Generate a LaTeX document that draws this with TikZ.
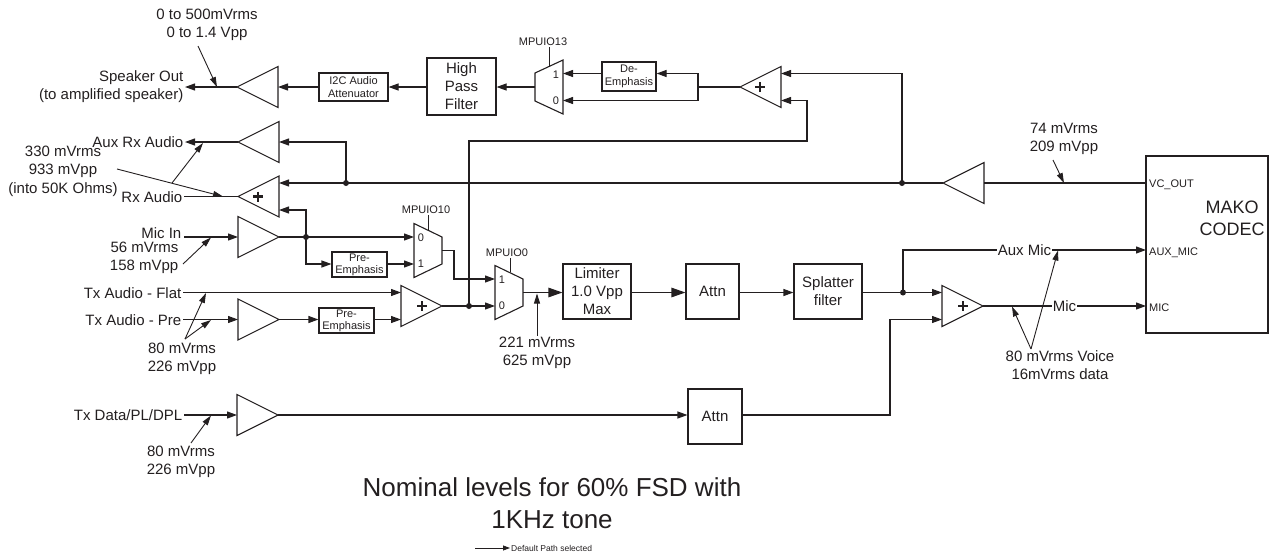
\documentclass[tikz,border=0pt]{standalone}
\usepackage{fontspec}
\setmainfont{Liberation Sans}
\usetikzlibrary{arrows.meta,calc}
\definecolor{ink}{HTML}{231F20}
\begin{document}
\begin{tikzpicture}[x=1pt,y=-1pt,
 lf/.style={font=\fontsize{15}{18}\selectfont,text=ink,inner sep=1.5pt,align=center},
 sf/.style={font=\fontsize{11}{12.5}\selectfont,text=ink,inner sep=1pt,align=center},
 box/.style={draw=ink,line width=1.1pt,inner sep=0pt,text=ink,align=center},
 ln/.style={draw=ink,line width=1.1pt},
 arr/.style={ln,-{Triangle[length=10pt,width=7pt]}},
 barr/.style={ln,-{Triangle[length=14pt,width=9.5pt]}},
 ptr/.style={draw=ink,line width=0.9pt,-{Triangle[length=10pt,width=6pt]}},
 shp/.style={draw=ink,line width=1.1pt},
 plus/.style={draw=ink,line width=2.6pt},
 ampR/.pic={\draw[shp] (0,-20.5) -- (41,0) -- (0,20.5) -- cycle;
   \coordinate (-in) at (0,0); \coordinate (-out) at (41,0);},
 ampL/.pic={\draw[shp] (0,-20.5) -- (-41,0) -- (0,20.5) -- cycle;
   \coordinate (-in) at (0,0); \coordinate (-out) at (-41,0);},
 sumL/.pic={\draw[shp] (0,-20.5) -- (-41,0) -- (0,20.5) -- cycle;
   \draw[plus] (-26,0) -- (-16,0) (-21,-5) -- (-21,5);
   \coordinate (-in1) at (0,-13.5); \coordinate (-in2) at (0,13.5); \coordinate (-out) at (-41,0);},
 sumR/.pic={\draw[shp] (0,-20.5) -- (41,0) -- (0,20.5) -- cycle;
   \draw[plus] (16,0) -- (26,0) (21,-5) -- (21,5);
   \coordinate (-in1) at (0,-13.5); \coordinate (-in2) at (0,13.5); \coordinate (-out) at (41,0);},
 muxN/.pic={\draw[shp] (0,-14) -- (28,-27) -- (28,27) -- (0,14) -- cycle;
   \coordinate (-out) at (0,0); \coordinate (-top) at (28,-13.5); \coordinate (-bot) at (28,13.5);},
 muxW/.pic={\draw[shp] (0,-27) -- (28,-13.5) -- (28,13.5) -- (0,27) -- cycle;
   \coordinate (-out) at (28,0); \coordinate (-top) at (0,-13.5); \coordinate (-bot) at (0,13.5);}
]
\useasboundingbox (0,0) rectangle (1270,558);

% ---------- blocks ----------
\pic (aSpk) at (278,87) {ampL};
\pic (aAux) at (279,142) {ampL};
\pic (sumRx) at (279,196.5) {sumL};
\pic (aMic) at (238,237) {ampR};
\pic (aPre) at (238,319.5) {ampR};
\pic (aData) at (237,415) {ampR};
\pic (aRx2) at (984,183) {ampL};
\pic (sumTop) at (781,87) {sumL};
\pic (sumTx) at (401,306) {sumR};
\pic (sumMic) at (942,306) {sumR};
\pic (m13) at (535,87) {muxN};
\pic (m10) at (414,250.5) {muxW};
\pic (m0) at (495,292.5) {muxW};

\node[box,font=\fontsize{11}{12.5}\selectfont,minimum width=69pt,minimum height=28pt] (i2c) at (353.5,87) {I2C Audio\\Attenuator};
\node[box,font=\fontsize{15}{18}\selectfont,minimum width=69pt,minimum height=57pt] (hpf) at (461.5,86.5) {High\\Pass\\Filter};
\node[box,font=\fontsize{11}{12.5}\selectfont,minimum width=54pt,minimum height=29pt] (de) at (629,76.5) {De-\\Emphasis};
\node[box,font=\fontsize{11}{12}\selectfont,minimum width=55pt,minimum height=25pt] (pe1) at (359.5,264.5) {Pre-\\Emphasis};
\node[box,font=\fontsize{11}{12}\selectfont,minimum width=55pt,minimum height=25pt] (pe2) at (346.5,320.5) {Pre-\\Emphasis};
\node[box,font=\fontsize{15}{18}\selectfont,minimum width=68pt,minimum height=55pt] (lim) at (597,291.5) {Limiter\\1.0 Vpp\\Max};
\node[box,font=\fontsize{15}{18}\selectfont,minimum width=53pt,minimum height=55pt] (at1) at (712.5,291.5) {Attn};
\node[box,font=\fontsize{15}{18}\selectfont,minimum width=68pt,minimum height=55pt] (spl) at (828,291.5) {Splatter\\filter};
\node[box,font=\fontsize{15}{18}\selectfont,minimum width=54pt,minimum height=55pt] (at2) at (715,416.5) {Attn};
\node[box,minimum width=122pt,minimum height=177pt] (codec) at (1207,244.5) {};
\node[font=\fontsize{18}{22}\selectfont,text=ink,align=center] (mako) at (1232,218) {MAKO\\CODEC};
\node[sf,anchor=west] (pinVC) at (1148,185) {VC\_OUT};
\node[sf,anchor=west] (pinAUX) at (1148,253) {AUX\_MIC};
\node[sf,anchor=west] (pinMIC) at (1148,308) {MIC};
\coordinate (pVC) at (1146,183);
\coordinate (pAUX) at (1146,250);
\coordinate (pMIC) at (1146,306);

% mux labels
\node[sf] (l13) at (543,42) {MPUIO13};
\node[sf] (l10) at (426,210) {MPUIO10};
\node[sf] (l0) at (507,253) {MPUIO0};
\coordinate (t13) at (549,66.3);
\coordinate (t10) at (428,229.8);
\coordinate (t0) at (510,272.2);
\draw[ln,line width=0.9pt] (l13.south -| t13) -- (t13);
\draw[ln,line width=0.9pt] (l10.south -| t10) -- (t10);
\draw[ln,line width=0.9pt] (l0.south -| t0) -- (t0);
\node[sf] at ($(m13-top)+(-7,1)$) {1};
\node[sf] at ($(m13-bot)+(-7,0)$) {0};
\node[sf] at ($(m10-top)+(7,1)$) {0};
\node[sf] at ($(m10-bot)+(7,0)$) {1};
\node[sf] at ($(m0-top)+(7,1)$) {1};
\node[sf] at ($(m0-bot)+(7,0)$) {0};

% ---------- text labels ----------
\node[lf,anchor=east,align=right] (spk) at (185,87) {Speaker Out\\(to amplified speaker)};
\node[lf] (lv500) at (207,25) {0 to 500mVrms\\0 to 1.4 Vpp};
\node[lf,anchor=east] (auxrx) at (185,142) {Aux Rx Audio};
\node[lf,anchor=east] (rxa) at (184,197) {Rx Audio};
\node[lf,font=\fontsize{15}{18.5}\selectfont] (lv330) at (63,171) {330 mVrms\\933 mVpp\\(into 50K Ohms)};
\node[lf,anchor=east] (micin) at (183,233) {Mic In};
\node[lf,anchor=east,align=right] (miclv) at (180,258) {56 mVrms\\158 mVpp};
\node[lf,anchor=east] (flat) at (183,293) {Tx Audio - Flat};
\node[lf,anchor=east] (pre) at (183,320) {Tx Audio - Pre};
\node[lf] (lvtx) at (182,359) {80 mVrms\\226 mVpp};
\node[lf,anchor=east] (data) at (184,415) {Tx Data/PL/DPL};
\node[lf] (lvdata) at (181,462) {80 mVrms\\226 mVpp};
\node[lf] (l221) at (537,353) {221 mVrms\\625 mVpp};
\node[lf] (lv74) at (1064,139) {74 mVrms\\209 mVpp};
\node[lf] (lvmic) at (1060,365) {80 mVrms Voice\\16mVrms data};
\node[font=\fontsize{26}{32}\selectfont,text=ink,align=center] (nom) at (552,503) {Nominal levels for 60\% FSD with\\1KHz tone};
\node[font=\fontsize{8.5}{10}\selectfont,text=ink,anchor=west,inner sep=1pt] (lgt) at (510,548) {Default Path selected};
\coordinate (lg1) at (475,548);
\draw[ln,line width=0.8pt,-{Triangle[length=7pt,width=5pt]}] (lg1) -- (lgt.west);

% ---------- coordinates ----------
\coordinate (sp13) at (698,87);
\coordinate (d902) at (902,183);
\coordinate (d346) at (346,183);
\coordinate (d306) at (306,237);
\coordinate (d469) at (469,306);
\coordinate (d903) at (903,292.5);
\coordinate (lb) at (807,141);
\coordinate (tb) at (890,319.5);
\coordinate (micst) at (184,237);

% ---------- connectors ----------
% speaker path
\draw[ln] (sumTop-out) -- (sp13);
\draw[arr] (sp13) |- (de.east |- m13-top);
\draw[arr] (sp13) |- (m13-bot);
\draw[arr] (de.west |- m13-top) -- (m13-top);
\draw[arr] (m13-out) -- (hpf.east |- m13-out);
\draw[arr] (hpf.west |- i2c.east) -- (i2c.east);
\draw[arr] (i2c.west) -- (aSpk-in);
\draw[arr] (aSpk-out) -- (spk.east |- aSpk-out);

% rx path
\draw[ln] (pVC) -- (aRx2-in);
\draw[arr] (aRx2-out) -- (sumRx-in1);
\draw[arr] (d902) |- (sumTop-in1);
\draw[arr] (d346) |- (aAux-in);
\draw[arr] (aAux-out) -- (auxrx.east |- aAux-out);
\draw[ln] (sumRx-out) -- (rxa.east |- sumRx-out);

% mic path
\draw[arr] (micst) -- (aMic-in);
\draw[ln] (aMic-out) -- (d306);
\draw[arr] (d306) -- (m10-top);
\draw[arr] (d306) |- (sumRx-in2);
\draw[arr] (d306) |- (pe1.west |- m10-bot);
\draw[arr] (pe1.east |- m10-bot) -- (m10-bot);
\draw[arr] (m10-out) -- ++(12,0) |- (m0-top);

% tx path
\draw[arr] (flat.east |- sumTx-in1) -- (sumTx-in1);
\draw[arr] (pre.east |- aPre-in) -- (aPre-in);
\draw[arr] (aPre-out) -- (pe2.west |- aPre-out);
\draw[arr] (pe2.east |- sumTx-in2) -- (sumTx-in2);
\draw[ln] (sumTx-out) -- (d469);
\draw[arr] (d469) -- (m0-bot);
\draw[arr] (d469) |- (lb) |- (sumTop-in2);
\draw[barr] (m0-out) -- (lim.west |- m0-out);
\draw[barr] (lim.east |- m0-out) -- (at1.west |- m0-out);
\draw[arr] (at1.east |- m0-out) -- (spl.west |- m0-out);
\draw[ln] (spl.east |- m0-out) -- (d903);
\draw[arr] (d903) -- (sumMic-in1);
\draw[arr] (d903) |- node[lf,pos=0.75,fill=white,inner sep=0.5pt] {Aux Mic} (pAUX);
\draw[arr] (sumMic-out) -- node[lf,pos=0.5,fill=white,inner sep=0.5pt] {Mic} (pMIC);

% data path
\draw[arr] (data.east |- aData-in) -- (aData-in);
\draw[arr] (aData-out) -- (at2.west |- aData-out);
\draw[arr] (at2.east |- aData-out) -| (tb) -- (sumMic-in2);

% junction dots
\foreach \d in {d902,d346,d306,d469,d903} \fill[ink] (\d) circle (3pt);

% ---------- level pointers ----------
\coordinate (p0a) at (198,46);   \coordinate (p0b) at (217,87);
\draw[ptr] (p0a) -- (p0b);
\coordinate (p330a) at (117,169); \coordinate (p330b) at (223,196.5);
\draw[ptr] (p330a) -- (p330b);
\coordinate (p330c) at (172,183); \coordinate (p330d) at (203,143);
\draw[ptr] (p330c) -- (p330d);
\coordinate (pma) at (183,264); \coordinate (pmb) at (211,237.5);
\draw[ptr] (pma) -- (pmb);
\coordinate (pta) at (185,339); \coordinate (ptb) at (206,293); \coordinate (ptc) at (211,320);
\draw[ptr] (pta) -- (ptb);
\draw[ptr] (pta) -- (ptc);
\coordinate (pda) at (191,443); \coordinate (pdb) at (211,415.5);
\draw[ptr] (pda) -- (pdb);
\coordinate (p221) at (537,293.5);
\draw[ptr] (l221.north) -- (p221);
\coordinate (p74a) at (1053,160); \coordinate (p74b) at (1064,183);
\draw[ptr] (p74a) -- (p74b);
\coordinate (pva) at (1031,349); \coordinate (pvb) at (1012,306.5); \coordinate (pvc) at (1058,250.5);
\draw[ptr] (pva) -- (pvb);
\draw[ptr] (pva) -- (pvc);
\end{tikzpicture}
\end{document}
